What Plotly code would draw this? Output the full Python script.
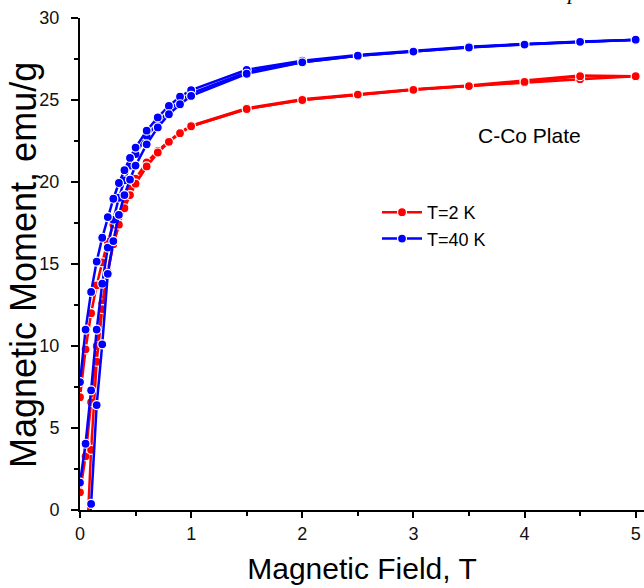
import plotly.graph_objects as go

# ---- data ----
field_full = [0, 0.05, 0.1, 0.15, 0.2, 0.25, 0.3, 0.35, 0.4, 0.45, 0.5,
              0.6, 0.7, 0.8, 0.9, 1.0, 1.5, 2.0, 2.5, 3.0, 3.5, 4.0, 4.5, 5.0]
field_asc = field_full[1:]

# T = 2 K
m2_virgin = [1.08, 3.27, 6.57, 10.0, 12.6, 14.6, 16.27, 17.45, 18.47, 19.25, 19.9,
             20.95, 21.8, 22.45, 22.98, 23.4, 24.45, 25.0, 25.33, 25.62, 25.85, 26.07, 26.27, 26.45]
m2_desc = [6.88, 9.8, 12.0, 13.7, 15.1, 16.37, 17.4, 18.06, 18.9, 19.6, 20.2,
           21.2, 21.9, 22.5, 23.02, 23.43, 24.5, 25.04, 25.37, 25.66, 25.88, 26.17, 26.5, 26.45]
m2_asc = [-3.5, 3.67, 9.04, 12.25, 14.5, 16.2, 17.4, 18.4, 19.2, 19.9,
          20.95, 21.8, 22.45, 22.98, 23.4, 24.45, 25.0, 25.33, 25.62, 25.85, 26.1, 26.45, 26.45]

# T = 40 K
m40_virgin = [1.67, 4.04, 7.3, 11.0, 13.8, 16.0, 17.7, 19.04, 20.1, 21.0, 21.7,
              22.8, 23.6, 24.35, 24.95, 25.4, 26.7, 27.3, 27.7, 27.98, 28.22, 28.4, 28.56, 28.66]
m40_desc = [7.8, 11.0, 13.3, 15.15, 16.6, 17.86, 18.98, 19.94, 20.72, 21.47, 22.1,
            23.13, 23.94, 24.64, 25.2, 25.6, 26.84, 27.4, 27.75, 28.0, 28.25, 28.42, 28.57, 28.68]
m40_asc = [-4.0, 0.37, 6.4, 10.1, 14.4, 16.4, 18.0, 19.2, 20.15, 21.0,
           22.3, 23.33, 24.13, 24.74, 25.25, 26.6, 27.3, 27.7, 27.95, 28.2, 28.38, 28.55, 28.68]

series = [
    ("T=2 K", "#FF0000", [(field_full, m2_virgin), (field_full, m2_desc), (field_asc, m2_asc)]),
    ("T=40 K", "#0000FF", [(field_full, m40_virgin), (field_full, m40_desc), (field_asc, m40_asc)]),
]

FONT = "Arial, Liberation Sans, sans-serif"

L, R, T, B = 80, 0, 18, 78
W, H = 644, 588
pw, ph = W - L - R, H - T - B


def px_x(p):
    return (p - L) / pw


def px_y(p):
    return (H - B - p) / ph


fig = go.Figure()
for name, color, branches in series:
    for i, (xs, ys) in enumerate(branches):
        fig.add_trace(go.Scatter(
            x=xs, y=ys, mode="lines+markers", name=name,
            legendgroup=name, showlegend=(i == 0),
            line=dict(color=color, width=2.5),
            marker=dict(color=color, size=9, line=dict(color="white", width=1.2)),
        ))

fig.add_annotation(x=px_x(529), y=px_y(135), xref="paper", yref="paper", text="C-Co Plate",
                   xanchor="center", yanchor="middle",
                   showarrow=False, font=dict(family=FONT, size=21, color="black"))

# y-axis title placed as rotated text
fig.add_annotation(x=px_x(23), y=px_y(265), xref="paper", yref="paper",
                   text="Magnetic Moment, emu/g", textangle=-90,
                   xanchor="center", yanchor="middle", showarrow=False,
                   font=dict(family=FONT, size=36, color="black"))

# cropped italic glyph at the very top (cut off in the reference too)
fig.add_annotation(x=px_x(572), y=px_y(6), xref="paper", yref="paper",
                   text="<i>p</i>", showarrow=False, xanchor="center", yanchor="bottom",
                   font=dict(family="Liberation Serif, Times New Roman, serif", size=22, color="black"))

fig.update_layout(
    width=W, height=H,
    margin=dict(l=L, r=R, t=T, b=B, pad=0),
    paper_bgcolor="white", plot_bgcolor="white",
    showlegend=True,
    legend=dict(x=px_x(377), y=px_y(194), xanchor="left", yanchor="top",
                bgcolor="rgba(0,0,0,0)", borderwidth=0, itemwidth=40,
                traceorder="grouped", tracegroupgap=0,
                font=dict(family=FONT, size=18, color="black")),
    xaxis=dict(range=[0, 5.075], tickmode="array", tickvals=[0, 1, 2, 3, 4, 5],
               ticks="outside", ticklen=6, tickwidth=1.5, tickcolor="black",
               minor=dict(tickvals=[0.5, 1.5, 2.5, 3.5, 4.5], ticks="outside", ticklen=4,
                          tickwidth=1.5, tickcolor="black", showgrid=False),
               showline=True, linecolor="black", linewidth=2, showgrid=False, zeroline=False,
               tickfont=dict(family=FONT, size=18, color="#111"),
               title=dict(text="Magnetic Field, T", font=dict(family=FONT, size=30, color="black"),
                          standoff=15)),
    yaxis=dict(range=[0, 30], tickmode="array", tickvals=[0, 5, 10, 15, 20, 25, 30],
               ticks="outside", ticklen=7, tickwidth=1.5, tickcolor="black",
               minor=dict(tickvals=[2.5, 7.5, 12.5, 17.5, 22.5, 27.5], ticks="outside", ticklen=4,
                          tickwidth=1.5, tickcolor="black", showgrid=False),
               showline=True, linecolor="black", linewidth=2, showgrid=False, zeroline=False,
               ticklabelstandoff=8,
               tickfont=dict(family=FONT, size=18, color="#111")),
    xaxis2=dict(overlaying="x", side="top", matches="x", anchor="y", showticklabels=False,
                tickmode="array", tickvals=[0, 1, 2, 3, 4, 5],
                ticks="inside", ticklen=8, tickwidth=1.5, tickcolor="black",
                minor=dict(tickvals=[0.5, 1.5, 2.5, 3.5, 4.5], ticks="inside", ticklen=4,
                           tickwidth=1.5, tickcolor="black", showgrid=False),
                showline=True, linecolor="black", linewidth=1.5, showgrid=False, zeroline=False),
    yaxis2=dict(overlaying="y", side="right", matches="y", anchor="x", showticklabels=False,
                tickmode="array", tickvals=[0, 5, 10, 15, 20, 25, 30],
                ticks="inside", ticklen=5, tickwidth=1.5, tickcolor="black",
                minor=dict(tickvals=[2.5, 7.5, 12.5, 17.5, 22.5, 27.5], ticks="inside", ticklen=2,
                           tickwidth=1.5, tickcolor="black", showgrid=False),
                showline=False, showgrid=False, zeroline=False),
)

fig.write_html("out.html")
